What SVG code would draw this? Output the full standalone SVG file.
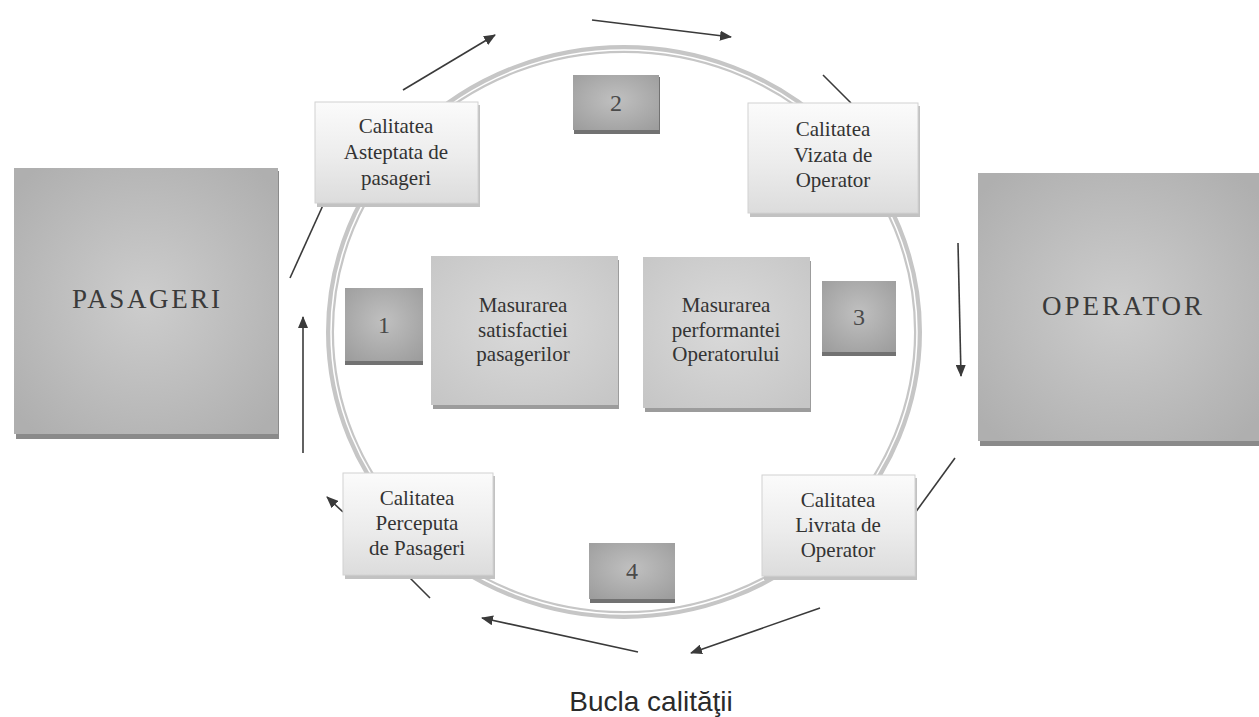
<svg xmlns="http://www.w3.org/2000/svg" width="1259" height="717" viewBox="0 0 1259 717">
<defs>
<radialGradient id="gBig" cx="50%" cy="50%" r="65%">
<stop offset="0" stop-color="#cdcdcd"/>
<stop offset="1" stop-color="#afafaf"/>
</radialGradient>
<radialGradient id="gNum" cx="50%" cy="45%" r="70%">
<stop offset="0" stop-color="#c0c0c0"/>
<stop offset="1" stop-color="#9d9d9d"/>
</radialGradient>
<radialGradient id="gMid" cx="50%" cy="45%" r="70%">
<stop offset="0" stop-color="#dadada"/>
<stop offset="1" stop-color="#c6c6c6"/>
</radialGradient>
<linearGradient id="gLight" x1="0" y1="0" x2="0" y2="1">
<stop offset="0" stop-color="#fbfbfb"/>
<stop offset="0.55" stop-color="#ececec"/>
<stop offset="1" stop-color="#dcdcdc"/>
</linearGradient>
<marker id="ah" viewBox="0 0 12 10" refX="11" refY="5" markerWidth="12" markerHeight="10" markerUnits="userSpaceOnUse" orient="auto">
<path d="M0,0 L12,5 L0,10 Z" fill="#3a3a3a"/>
</marker>
<style>
.big{fill:url(#gBig)}
.bigsh{fill:#8a8a8a}
.num{fill:url(#gNum)}
.numsh{fill:#727272}
.mid{fill:url(#gMid)}
.midsh{fill:#9c9c9c}
.lt{fill:url(#gLight);stroke:#d2d2d2;stroke-width:1}
.ltsh{fill:#c2c2c2}
.t{font-family:"Liberation Serif","Times New Roman",serif;fill:#333;text-anchor:middle}
.lab{font-size:21px}
.n{font-size:24px;fill:#4a4a4a}
.hd{font-size:27px;fill:#3a3a3a}
.ttl{font-family:"Liberation Sans",Arial,sans-serif;font-size:28px;fill:#2a2a2a;text-anchor:middle}
.c{stroke:#3a3a3a;stroke-width:1.6;fill:none}
.a{marker-end:url(#ah)}
</style>
</defs>
<rect width="1259" height="717" fill="#fff"/>

<g id="ring">
<ellipse cx="624" cy="332" rx="294" ry="283" fill="none" stroke="#c6c6c6" stroke-width="8"/>
<ellipse cx="624" cy="332" rx="293" ry="282" fill="none" stroke="#fff" stroke-width="1.5"/>
</g>

<g id="connectors">
<line class="c a" x1="403" y1="90" x2="495" y2="35"/>
<line class="c a" x1="592" y1="20" x2="731" y2="37"/>
<line class="c" x1="823" y1="75" x2="851" y2="103"/>
<line class="c a" x1="958" y1="243" x2="961" y2="376"/>
<line class="c" x1="955" y1="458" x2="915" y2="513"/>
<line class="c a" x1="820" y1="608" x2="691" y2="653"/>
<line class="c a" x1="638" y1="652" x2="482" y2="618"/>
<line class="c" x1="430" y1="598" x2="406" y2="574"/>
<line class="c a" x1="343" y1="512" x2="327" y2="497"/>
<line class="c a" x1="303" y1="453" x2="303" y2="317"/>
<line class="c" x1="290" y1="278" x2="324" y2="203"/>
</g>

<g id="pasageri">
<rect class="bigsh" x="16" y="171" width="263" height="268"/>
<rect class="big" x="14" y="168" width="264" height="266"/>
<text class="t hd" x="146" y="308" textLength="148" lengthAdjust="spacing">PASAGERI</text>
</g>

<g id="operator">
<rect class="bigsh" x="980" y="176" width="279" height="270"/>
<rect class="big" x="978" y="173" width="281" height="268"/>
<text class="t hd" x="1122" y="315" textLength="160" lengthAdjust="spacing">OPERATOR</text>
</g>

<g id="q-asteptata">
<rect class="ltsh" x="317" y="105" width="163" height="102"/>
<rect class="lt" x="315" y="102" width="163" height="101"/>
<text class="t lab" x="396" y="133">Calitatea</text>
<text class="t lab" x="396" y="159">Asteptata de</text>
<text class="t lab" x="396" y="185">pasageri</text>
</g>

<g id="q-vizata">
<rect class="ltsh" x="750" y="106" width="170" height="111"/>
<rect class="lt" x="748" y="103" width="170" height="110"/>
<text class="t lab" x="833" y="136">Calitatea</text>
<text class="t lab" x="833" y="162">Vizata de</text>
<text class="t lab" x="833" y="187">Operator</text>
</g>

<g id="q-perceputa">
<rect class="ltsh" x="345" y="476" width="150" height="103"/>
<rect class="lt" x="343" y="473" width="150" height="102"/>
<text class="t lab" x="417" y="505">Calitatea</text>
<text class="t lab" x="417" y="530">Perceputa</text>
<text class="t lab" x="417" y="555">de Pasageri</text>
</g>

<g id="q-livrata">
<rect class="ltsh" x="764" y="478" width="153" height="102"/>
<rect class="lt" x="762" y="475" width="153" height="101"/>
<text class="t lab" x="838" y="507">Calitatea</text>
<text class="t lab" x="838" y="532">Livrata de</text>
<text class="t lab" x="838" y="557">Operator</text>
</g>

<g id="m-satisfactie">
<rect class="midsh" x="433" y="260" width="186" height="149"/>
<rect class="mid" x="431" y="256" width="187" height="149"/>
<text class="t lab" x="523" y="312">Masurarea</text>
<text class="t lab" x="523" y="337">satisfactiei</text>
<text class="t lab" x="523" y="361">pasagerilor</text>
</g>

<g id="m-performanta">
<rect class="midsh" x="645" y="261" width="166" height="151"/>
<rect class="mid" x="643" y="257" width="167" height="151"/>
<text class="t lab" x="726" y="312">Masurarea</text>
<text class="t lab" x="726" y="337">performantei</text>
<text class="t lab" x="726" y="361">Operatorului</text>
</g>

<g id="n1">
<rect class="numsh" x="345" y="290" width="78" height="75"/>
<rect class="num" x="345" y="288" width="78" height="73"/>
<text class="t n" x="384" y="333">1</text>
</g>
<g id="n2">
<rect class="numsh" x="574" y="77" width="86" height="57"/>
<rect class="num" x="573" y="75" width="86" height="55"/>
<text class="t n" x="616" y="111">2</text>
</g>
<g id="n3">
<rect class="numsh" x="822" y="283" width="74" height="73"/>
<rect class="num" x="822" y="281" width="74" height="71"/>
<text class="t n" x="859" y="325">3</text>
</g>
<g id="n4">
<rect class="numsh" x="590" y="545" width="85" height="58"/>
<rect class="num" x="589" y="543" width="86" height="56"/>
<text class="t n" x="632" y="579">4</text>
</g>

<text class="ttl" x="651" y="711">Bucla calităţii</text>
</svg>
